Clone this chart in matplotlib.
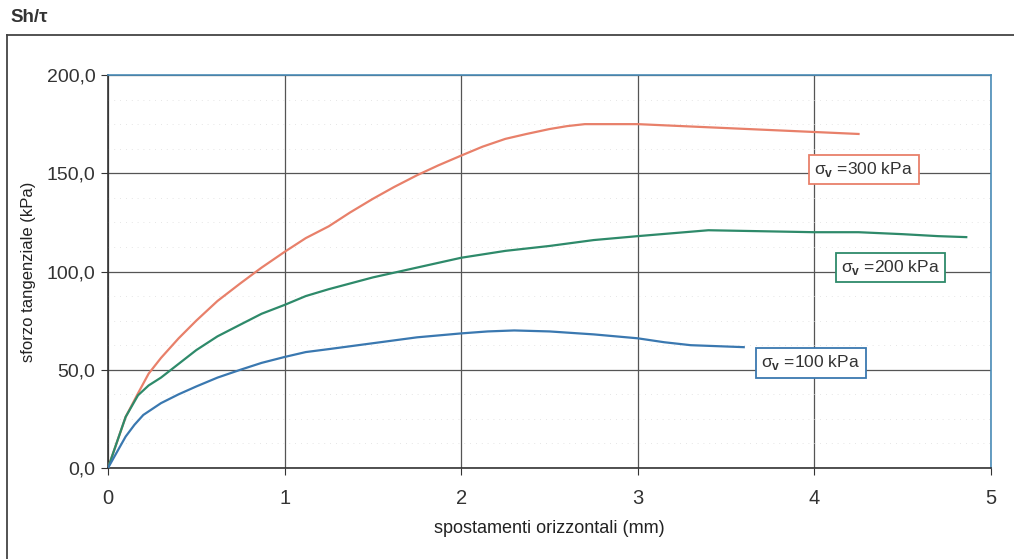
import numpy as np
import matplotlib.pyplot as plt
from matplotlib.lines import Line2D
from matplotlib.ticker import FuncFormatter

# displacement (mm) / shear stress (kPa)
x_300 = [0, 0.05, 0.1, 0.17, 0.23, 0.3, 0.4, 0.5, 0.62, 0.75, 0.87, 1.0, 1.12, 1.25, 1.37, 1.5, 1.62,
         1.75, 1.87, 2.0, 2.12, 2.25, 2.37, 2.5, 2.6, 2.7, 2.85, 3.0, 3.25, 3.5, 3.75, 4.0, 4.25]
y_300 = [0, 13, 26, 38, 48, 56, 66, 75, 85, 94, 102, 110, 117, 123, 130, 137, 143,
         149, 154, 159, 163.5, 167.5, 170, 172.5, 174, 175, 175, 175, 174, 173, 172, 171, 170]

x_200 = [0, 0.05, 0.1, 0.17, 0.23, 0.3, 0.4, 0.5, 0.62, 0.75, 0.87, 1.0, 1.12, 1.25, 1.5, 1.75,
         2.0, 2.25, 2.5, 2.75, 3.0, 3.2, 3.4, 3.7, 4.0, 4.25, 4.5, 4.7, 4.86]
y_200 = [0, 13, 26, 37, 42, 46, 53, 60, 67, 73, 78.5, 83, 87.5, 91, 97, 102,
         107, 110.5, 113, 116, 118, 119.5, 121, 120.5, 120, 120, 119, 118, 117.5]

x_100 = [0, 0.05, 0.1, 0.15, 0.2, 0.3, 0.4, 0.5, 0.62, 0.75, 0.87, 1.0, 1.12, 1.25, 1.5, 1.75,
         2.0, 2.15, 2.3, 2.5, 2.75, 3.0, 3.15, 3.3, 3.45, 3.6]
y_100 = [0, 8, 16, 22, 27, 33, 37.5, 41.5, 46, 50, 53.5, 56.5, 59, 60.5, 63.5, 66.5,
         68.5, 69.5, 70, 69.5, 68, 66, 64, 62.5, 62, 61.5]

labels = ["σ$_\\mathbf{v}$ =300 kPa", "σ$_\\mathbf{v}$ =200 kPa", "σ$_\\mathbf{v}$ =100 kPa"]
label_pos = [(4.28, 152), (4.43, 102), (3.98, 53.5)]
colors = ["#e8806a", "#2e8a6a", "#3a78b0"]

plt.rcParams["font.family"] = ["Liberation Sans", "DejaVu Sans"]
plt.rcParams["mathtext.fontset"] = "custom"
plt.rcParams["mathtext.bf"] = "Liberation Sans:bold"

narrow = ["Liberation Sans Narrow", "DejaVu Sans Condensed", "Liberation Sans"]

fig = plt.figure(figsize=(10.14, 5.59), dpi=100)
ax = fig.add_axes([0.1065, 0.1628, 0.8708, 0.703])

ax.plot(x_300, y_300, color=colors[0], lw=1.6, zorder=3)
ax.plot(x_200, y_200, color=colors[1], lw=1.6, zorder=3)
ax.plot(x_100, y_100, color=colors[2], lw=1.6, zorder=3)

for txt, (px, py), c in zip(labels, label_pos, colors):
    ax.text(px, py, txt, fontsize=12.5, ha="center", va="center", zorder=4, color="#333333",
            bbox=dict(boxstyle="square,pad=0.3", fc="white", ec=c, lw=1.3))

ax.set_xlim(0, 5)
ax.set_ylim(0, 200)
ax.set_xticks(range(6))
ax.set_yticks(np.arange(0, 201, 50))
ax.yaxis.set_major_formatter(FuncFormatter(lambda v, p: f"{v:.1f}".replace(".", ",")))
ax.grid(True, color="#555555", lw=0.9)
ax.set_axisbelow(True)

# faint dotted minor lines
for yy in np.arange(12.5, 200, 12.5):
    if yy % 50:
        ax.axhline(yy, color="#dddddd", lw=0.6, ls=(0, (1, 6)), zorder=1)

for s in ["top", "right"]:
    ax.spines[s].set_color("#4a8cb8")
    ax.spines[s].set_linewidth(1.2)
for s in ["left", "bottom"]:
    ax.spines[s].set_color("#333333")
    ax.spines[s].set_linewidth(1.2)

ax.tick_params(axis="y", labelsize=14, length=5, direction="out", colors="#333333", pad=4)
ax.tick_params(axis="x", labelsize=14.5, length=5, direction="out", colors="#333333", pad=10)
for t in ax.get_xticklabels():
    t.set_family(narrow)

ax.set_xlabel("spostamenti orizzontali (mm)", fontsize=13, color="#222222", labelpad=9,
              family=narrow)
ax.set_ylabel("sforzo tangenziale (kPa)", fontsize=12, color="#222222", labelpad=8)

# outer frame
fig.add_artist(Line2D([7 / 1014, 7 / 1014], [0, 1 - 35 / 559], color="#444444", lw=1.3))
fig.add_artist(Line2D([7 / 1014, 1], [1 - 35 / 559, 1 - 35 / 559], color="#444444", lw=1.3))

fig.text(10 / 1014, 1 - 18 / 559, "Sh/τ", fontsize=13.5, fontweight="bold", color="#333333",
         ha="left", va="center")

fig.savefig("out.png", dpi=100)
